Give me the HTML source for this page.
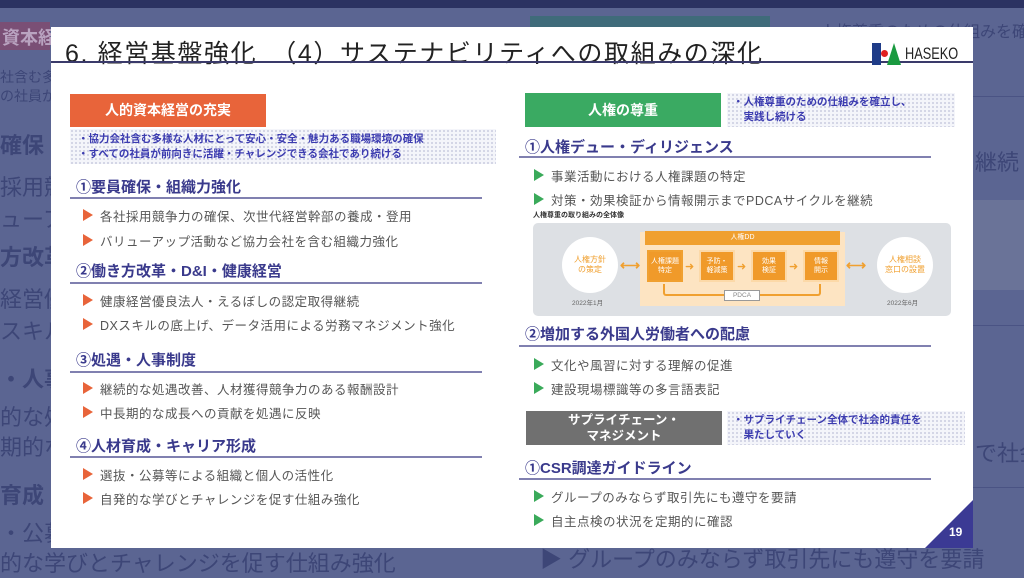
<!DOCTYPE html>
<html><head><meta charset="utf-8"><style>
*{margin:0;padding:0;box-sizing:border-box}
body{width:1024px;height:576px;overflow:hidden;background:#5b6592;font-family:"Liberation Sans","Noto Sans CJK JP",sans-serif;position:relative}
.a{position:absolute;white-space:nowrap}
.bg{color:#3d4677;font-size:22px}
.bl{border-top:1px solid #4a5384;position:absolute}
#s{position:absolute;left:51px;top:27px;width:922px;height:521px;background:#fff;overflow:hidden}
.h{position:absolute;font-size:15px;font-weight:bold;color:#3a3a8c;white-space:nowrap}
.ln{position:absolute;height:2px;background:#8080b0}
.b{position:absolute;font-size:12.5px;color:#555;white-space:nowrap;letter-spacing:0.5px}
.b:before{content:"";position:absolute;left:-17px;top:3px;border-left:10px solid #e8643a;border-top:6px solid transparent;border-bottom:6px solid transparent}
.g:before{border-left-color:#3aaa5a}
.dot{position:absolute;background-color:#f4f5fa;background-image:radial-gradient(#c9cbe0 0.8px,transparent 1px);background-size:4px 4px;color:#3c3cb0;font-size:10.5px;font-weight:bold;line-height:15px}
.ob{position:absolute;background:#f09a2a;border:2px solid #fcd9a8;color:#fff;font-size:7px;text-align:center;display:flex;align-items:center;justify-content:center;line-height:9px}
</style></head><body>
<div class="a" style="left:0;top:0;width:1024px;height:8px;background:#2b3262"></div>
<div class="a" style="left:0;top:22px;width:50px;height:28px;background:#7a4f75"></div>
<div class="a bg" style="left:2px;top:24px;color:#b9a3c0;font-weight:bold;font-size:18px">資本経</div>
<div class="a bg" style="left:0;top:68px;font-size:14px;line-height:19px">社含む多<br>の社員が</div>
<div class="a bg" style="left:0;top:128px;font-weight:bold">確保・</div>
<div class="a bg" style="left:0;top:170px;">採用競</div>
<div class="a bg" style="left:0;top:202px;">ューア</div>
<div class="a bg" style="left:0;top:240px;font-weight:bold">方改革</div>
<div class="a bg" style="left:0;top:282px;">経営優</div>
<div class="a bg" style="left:0;top:314px;">スキル</div>
<div class="a bg" style="left:0;top:362px;font-weight:bold">・人事</div>
<div class="a bg" style="left:0;top:400px;">的な処</div>
<div class="a bg" style="left:0;top:430px;">期的な</div>
<div class="a bg" style="left:0;top:478px;font-weight:bold">育成・</div>
<div class="a bg" style="left:0;top:516px;">・公募</div>
<div class="a bg" style="left:0;top:546px;">的な学びとチャレンジを促す仕組み強化</div>
<div class="a" style="left:530px;top:16px;width:240px;height:12px;background:#3f6b7a"></div>
<div class="a bg" style="left:820px;top:18px;font-size:16px">人権尊重のための仕組みを確立</div>
<div class="a bg" style="left:975px;top:145px;">継続</div>
<div class="a" style="left:973px;top:200px;width:51px;height:90px;background:#6a7398"></div>
<div class="a bg" style="left:975px;top:436px;">で社会的</div>
<div class="a bg" style="left:540px;top:542px;">▶ グループのみならず取引先にも遵守を要請</div>
<div class="bl" style="left:973px;top:96px;width:51px"></div>
<div class="bl" style="left:973px;top:325px;width:51px"></div>
<div class="bl" style="left:973px;top:487px;width:51px"></div>

<div id="s">
<div class="a" style="left:14px;top:7px;font-size:25px;color:#222;letter-spacing:1.6px">6. 経営基盤強化　（4）サステナビリティへの取組みの深化</div>
<div class="a" style="left:0;top:34px;width:922px;height:2px;background:#3a3a6a"></div>
<div class="a" style="left:821px;top:16px;width:9px;height:22px;background:#1f3c88"></div>
<div class="a" style="left:830px;top:23px;width:7px;height:7px;border-radius:50%;background:#e02020"></div>
<div class="a" style="left:836px;top:16px;width:0;height:0;border-left:7px solid transparent;border-right:7px solid transparent;border-bottom:22px solid #1a9a40"></div>
<div class="a" style="left:854px;top:17px;font-size:17px;color:#222;transform:scaleX(0.75);transform-origin:left">HASEKO</div>

<!-- left -->
<div class="a" style="left:19px;top:67px;width:196px;height:33px;background:#e8643a;color:#fff;font-weight:bold;font-size:14px;text-align:center;line-height:33px">人的資本経営の充実</div>
<div class="dot" style="left:19px;top:102px;width:426px;height:35px;padding:3px 8px">・協力会社含む多様な人材にとって安心・安全・魅力ある職場環境の確保<br>・すべての社員が前向きに活躍・チャレンジできる会社であり続ける</div>

<div class="h" style="left:25px;top:149px">①要員確保・組織力強化</div>
<div class="ln" style="left:19px;top:170px;width:412px"></div>
<div class="b" style="left:49px;top:179px">各社採用競争力の確保、次世代経営幹部の養成・登用</div>
<div class="b" style="left:49px;top:204px">バリューアップ活動など協力会社を含む組織力強化</div>

<div class="h" style="left:25px;top:233px">②働き方改革・D&amp;I・健康経営</div>
<div class="ln" style="left:19px;top:255px;width:412px"></div>
<div class="b" style="left:49px;top:264px">健康経営優良法人・えるぼしの認定取得継続</div>
<div class="b" style="left:49px;top:288px"> DXスキルの底上げ、データ活用による労務マネジメント強化</div>

<div class="h" style="left:25px;top:322px">③処遇・人事制度</div>
<div class="ln" style="left:19px;top:344px;width:412px"></div>
<div class="b" style="left:49px;top:352px">継続的な処遇改善、人材獲得競争力のある報酬設計</div>
<div class="b" style="left:49px;top:376px">中長期的な成長への貢献を処遇に反映</div>

<div class="h" style="left:25px;top:408px">④人材育成・キャリア形成</div>
<div class="ln" style="left:19px;top:429px;width:412px"></div>
<div class="b" style="left:49px;top:438px">選抜・公募等による組織と個人の活性化</div>
<div class="b" style="left:49px;top:462px">自発的な学びとチャレンジを促す仕組み強化</div>

<!-- right -->
<div class="a" style="left:474px;top:66px;width:196px;height:34px;background:#3aaa62;color:#fff;font-weight:bold;font-size:14px;text-align:center;line-height:34px">人権の尊重</div>
<div class="dot" style="left:676px;top:66px;width:228px;height:34px;padding:2px 6px">・人権尊重のための仕組みを確立し、<br>　実践し続ける</div>
<div class="h" style="left:474px;top:109px">①人権デュー・ディリジェンス</div>
<div class="ln" style="left:468px;top:129px;width:412px"></div>
<div class="b g" style="left:500px;top:139px">事業活動における人権課題の特定</div>
<div class="b g" style="left:500px;top:163px">対策・効果検証から情報開示までPDCAサイクルを継続</div>
<div class="a" style="left:482px;top:183px;font-size:7px;font-weight:bold;color:#333">人権尊重の取り組みの全体像</div>
<div class="a" style="left:482px;top:196px;width:418px;height:93px;background:#dde0e4;border-radius:5px"></div>
<div class="a" style="left:511px;top:210px;width:56px;height:56px;border-radius:50%;background:#fff;color:#f0a030;font-size:8px;text-align:center;padding-top:18px;line-height:10px">人権方針<br>の策定</div>
<div class="a" style="left:826px;top:210px;width:56px;height:56px;border-radius:50%;background:#fff;color:#f0a030;font-size:8px;text-align:center;padding-top:18px;line-height:10px">人権相談<br>窓口の設置</div>
<div class="a" style="left:521px;top:270px;font-size:6.5px;color:#666">2022年1月</div>
<div class="a" style="left:836px;top:270px;font-size:6.5px;color:#666">2022年6月</div>
<div class="a" style="left:569px;top:230px;font-size:14px;color:#f0a030;font-weight:bold">⟷</div>
<div class="a" style="left:795px;top:230px;font-size:14px;color:#f0a030;font-weight:bold">⟷</div>
<div class="a" style="left:589px;top:205px;width:205px;height:74px;background:#fde4c2"></div>
<div class="a" style="left:594px;top:204px;width:195px;height:14px;background:#f0a030;color:#fff;font-size:7px;text-align:center;line-height:14px">人権DD</div>
<div class="ob" style="left:596px;top:223px;width:36px;height:32px;border-color:#f0a030">人権課題<br>特定</div>
<div class="ob" style="left:648px;top:223px;width:36px;height:32px">予防・<br>軽減策</div>
<div class="ob" style="left:700px;top:223px;width:36px;height:32px">効果<br>検証</div>
<div class="ob" style="left:752px;top:223px;width:36px;height:32px">情報<br>開示</div>
<div class="a" style="left:634px;top:233px;font-size:11px;color:#f0a030">➜</div>
<div class="a" style="left:686px;top:233px;font-size:11px;color:#f0a030">➜</div>
<div class="a" style="left:738px;top:233px;font-size:11px;color:#f0a030">➜</div>
<div class="a" style="left:612px;top:257px;width:158px;height:12px;border:2px solid #f0a030;border-top:none;border-radius:0 0 3px 3px"></div>
<div class="a" style="left:673px;top:263px;width:36px;height:11px;background:#fff;border:1px solid #999;font-size:6.5px;color:#888;text-align:center;line-height:9px">PDCA</div>

<div class="h" style="left:474px;top:296px">②増加する外国人労働者への配慮</div>
<div class="ln" style="left:468px;top:318px;width:412px"></div>
<div class="b g" style="left:500px;top:328px">文化や風習に対する理解の促進</div>
<div class="b g" style="left:500px;top:352px">建設現場標識等の多言語表記</div>

<div class="a" style="left:475px;top:384px;width:196px;height:34px;background:#707070;color:#fff;font-weight:bold;font-size:12.5px;text-align:center;line-height:16px;padding-top:1px">サプライチェーン・<br>マネジメント</div>
<div class="dot" style="left:676px;top:384px;width:238px;height:34px;padding:2px 6px">・サプライチェーン全体で社会的責任を<br>　果たしていく</div>
<div class="h" style="left:474px;top:430px">①CSR調達ガイドライン</div>
<div class="ln" style="left:468px;top:451px;width:412px"></div>
<div class="b g" style="left:500px;top:460px">グループのみならず取引先にも遵守を要請</div>
<div class="b g" style="left:500px;top:484px">自主点検の状況を定期的に確認</div>

<div class="a" style="left:874px;top:473px;width:0;height:0;border-left:48px solid transparent;border-bottom:48px solid #3b3a94"></div>
<div class="a" style="left:898px;top:498px;color:#fff;font-size:12px;font-weight:bold">19</div>
</div>
</body></html>
